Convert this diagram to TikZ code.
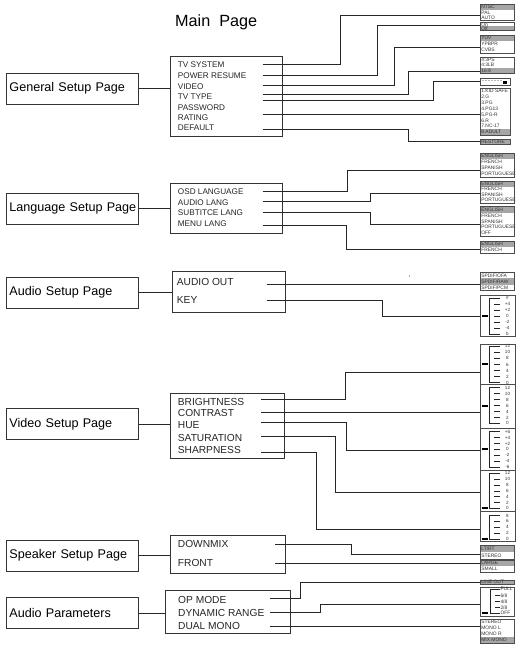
\documentclass[tikz,border=0pt]{standalone}
\usepackage{fontspec}
\setmainfont{Liberation Sans}
\usetikzlibrary{calc}
\tikzset{
 conn/.style={draw=black!85, line width=0.8pt},
 pagebox/.style={draw=black!80, line width=0.9pt, minimum width=132pt, minimum height=31pt, text width=126pt, align=left, inner xsep=3pt, inner ysep=5pt, font=\fontsize{12.6}{15}\selectfont, anchor=west},
 menubox/.style={draw=black!80, line width=0.9pt, inner sep=0pt},
 itemS/.style={anchor=west, inner sep=0pt, font=\fontsize{8.2}{9}\selectfont, text=black!85},
 itemL/.style={anchor=west, inner sep=0pt, font=\fontsize{10.2}{11}\selectfont, text=black!85},
 opt/.style={anchor=west, inner sep=0pt, font=\fontsize{4.9}{5}\selectfont, text=black!80},
 slab/.style={inner sep=0pt, font=\fontsize{4.6}{5}\selectfont, text=black!80},
 optframe/.style={draw=black!70, line width=0.6pt},
 hl/.style={fill=black!35},
 tickline/.style={draw=black!85, line width=0.6pt},
 marker/.style={draw=black, line width=2pt},
}
% #1 name #2 x #3 ytop #4 width #5 rowh #6 highlighted row #7 items
\newcommand\optlist[7]{%
  \foreach \t [count=\i] in {#7} {
    \ifnum\i=#6\relax \fill[hl] (#2,{#3+(\i-1)*#5}) rectangle ({#2+#4},{#3+\i*#5});\fi
    \node[opt] (#1-\i) at ({#2+1.2},{#3+(\i-0.5)*#5}) {\t};
    \xdef\nrows{\i}
  }
  \draw[optframe] (#2,#3) rectangle ({#2+#4},{#3+\nrows*#5});
}
% #1 name #2 ytop #3 ybot #4 y0 #5 step #6 marker index #7 labels
\newcommand\slider[7]{%
  \draw[optframe] (480,#2) rectangle (515,#3);
  \foreach \t [count=\i from 0] in {#7} {
    \node[slab] (#1-\i) at (507.5,{#4+\i*#5}) {\t};
    \draw[tickline] (494,{#4+\i*#5}) -- (499.5,{#4+\i*#5});
    \xdef\nlast{\i}
  }
  \draw[tickline] (499.5,#4) -- (489,#4) -- (489,{#4+\nlast*#5}) -- (499.5,{#4+\nlast*#5});
  \draw[marker] (481.5,{#4+#6*#5}) -- (487.5,{#4+#6*#5});
}
\begin{document}
\begin{tikzpicture}[x=1pt,y=-1pt]
\useasboundingbox (0,0) rectangle (520,647);
\fill[white] (0,0) rectangle (520,647);

\node[anchor=west, inner sep=0pt, font=\fontsize{16.2}{18}\selectfont] (title) at (175,22) {Main\ \ Page};

% ---------- left page boxes
\node[pagebox] (gen)  at (6,88.5)  {\mbox{General Setup Page}};
\node[pagebox] (lang) at (6,208.7) {\mbox{Language Setup Page}};
\node[pagebox] (aud)  at (6,292.7) {\mbox{Audio Setup Page}};
\node[pagebox] (vid)  at (6,424.3) {\mbox{Video Setup Page}};
\node[pagebox] (spk)  at (6,555.7) {\mbox{Speaker Setup Page}};
\node[pagebox] (apar) at (6,613)   {\mbox{Audio Parameters}};

% ---------- menu boxes
\node[menubox, minimum width=111.3pt, minimum height=80pt]   (genmenu)  at (226.35,96.7) {};
\node[menubox, minimum width=111.6pt, minimum height=50pt]   (langmenu) at (226.5,208.3) {};
\node[menubox, minimum width=113.4pt, minimum height=40.3pt] (audmenu)  at (229,291.85) {};
\node[menubox, minimum width=113.6pt, minimum height=65pt]   (vidmenu)  at (227.5,425.8) {};
\node[menubox, minimum width=114.3pt, minimum height=37.3pt] (spkmenu)  at (227.85,554.35) {};
\node[menubox, minimum width=125pt,   minimum height=43pt]   (aparmenu) at (227.5,611.5) {};

\foreach \b/\m in {gen/genmenu,lang/langmenu,aud/audmenu,vid/vidmenu,spk/spkmenu,apar/aparmenu}
  \draw[conn] (\b.east) -- (\b.east -| \m.west);

% ---------- menu items
\node[itemS] (tvsystem) at (177.7,64.7)  {TV SYSTEM};
\node[itemS] (powres)   at (177.7,76)    {POWER RESUME};
\node[itemS] (videoi)   at (177.7,86.2)  {VIDEO};
\node[itemS] (tvtype)   at (177.7,96.7)  {TV TYPE};
\node[itemS] (passw)    at (177.7,107.2) {PASSWORD};
\node[itemS] (rating)   at (177.7,117.7) {RATING};
\node[itemS] (default)  at (177.7,128)   {DEFAULT};

\node[itemS] (osdl)  at (177.7,192)   {OSD LANGUAGE};
\node[itemS] (audl)  at (177.7,202.7) {AUDIO LANG};
\node[itemS] (subl)  at (177.7,212.7) {SUBTITCE LANG};
\node[itemS] (menul) at (177.7,223.3) {MENU LANG};

\node[itemL] (audout) at (176.7,281.7) {AUDIO OUT};
\node[itemL] (keyi)   at (176.7,300)   {KEY};

\node[itemL] (bright) at (177.7,401.7) {BRIGHTNESS};
\node[itemL] (contr)  at (177.7,413.3) {CONTRAST};
\node[itemL] (hue)    at (177.7,425)   {HUE};
\node[itemL] (satur)  at (177.7,438.3) {SATURATION};
\node[itemL] (sharp)  at (177.7,450.3) {SHARPNESS};

\node[itemL] (downmix) at (177.7,544.3) {DOWNMIX};
\node[itemL] (front)   at (177.7,563.3) {FRONT};

\node[itemL] (opmode) at (178,600)   {OP MODE};
\node[itemL] (dynr)   at (178,613)   {DYNAMIC RANGE};
\node[itemL] (dualm)  at (178,626)   {DUAL MONO};

% ---------- option boxes
\optlist{tvs}{480}{4.3}{34.5}{5.47}{1}{NTSC,PAL,AUTO}
\optlist{res}{480}{22.3}{34.5}{4.2}{2}{On,Off}
\optlist{vdo}{480}{35}{34.5}{6.1}{1}{YUV,YPBPR,CVBS}
\optlist{tvt}{480}{57.3}{34.5}{5.33}{3}{4:3PS,4:3LB,16:9}
\draw[optframe] (480,78.3) rectangle (510.7,85);
\node[opt, font=\fontsize{6}{6}\selectfont] (pwd) at (482,81.4) {-\,-\,-\,-\,-\,-\,-};
\fill[black] (503.2,81.4) rectangle (507.2,84.3);
\draw[black, line width=0.7pt] (503.9,81.4) arc[start angle=180, end angle=0, radius=1.3];
\optlist{rat}{480}{88.3}{30.7}{5.84}{8}{1.KID SAFE,2.G,3.PG,4.PG13,5.PG-R,6.R,7.NC-17,8.ADULT}
\optlist{rst}{480}{139}{30.7}{5.2}{1}{RESTORE}

\optlist{la}{480}{153.3}{34.5}{6}{1}{ENGLISH,FRENCH,SPANISH,PORTUGUESE}
\optlist{lb}{480}{181}{34.5}{5.5}{1}{ENGLISH,FRENCH,SPANISH,PORTUGUESE}
\optlist{lc}{480}{206.7}{34.5}{5.85}{1}{ENGLISH,FRENCH,SPANISH,PORTUGUESE,OFF}
\optlist{ld}{480}{241}{34.5}{6}{1}{ENGLISH,FRENCH}

\optlist{spd}{480}{272.3}{34.5}{6.13}{2}{SPDIF/OFA,SPDIF/RAW,SPDIF/PCM}
\slider{key}{295.7}{336.7}{298.3}{5.95}{3}{\#,+4,+2,0,-2,-4,b}

\slider{sa}{344}{384.3}{346.3}{6.05}{3}{12,10,8,6,4,2,0}
\slider{sb}{384.3}{428.3}{387.7}{5.95}{3}{12,10,8,6,4,2,0}
\slider{sc}{428.3}{470}{431.7}{5.85}{3}{+6,+4,+2,0,-2,-4,-6}
\slider{sd}{470}{511.7}{473.3}{5.85}{6}{12,10,8,6,4,2,0}
\slider{se}{511.7}{541.7}{515.5}{5.85}{4}{8,6,4,2,0}

\optlist{ltr}{480}{545.7}{34.5}{6.65}{1}{LT/RT,STEREO}
\optlist{lrg}{480}{560}{34.5}{6.15}{1}{LARGE,SMALL}
\optlist{lno}{480}{579.8}{34.5}{4.8}{1}{LINE OUT}
\draw[optframe] (480,587.7) rectangle (514.5,616);
\foreach \t [count=\i from 0] in {FULL,6/8,4/8,2/8,OFF} {
  \node[opt] (dyn-\i) at (500.3,{589.3+\i*6}) {\t};
  \draw[tickline] (495,{589.3+\i*6}) -- (499.6,{589.3+\i*6});
}
\draw[tickline] (499.6,589.3) -- (490.7,589.3) -- (490.7,613.3) -- (499.6,613.3);
\draw[marker] (481.5,613.3) -- (487.5,613.3);
\optlist{stm}{480}{619.3}{34.5}{6}{4}{STEREO,MONO L,MONO R,MIX MONO}

% ---------- connector ends on option boxes
\coordinate (tvs-in) at (480,15.3);
\coordinate (res-in) at (480,25.7);
\coordinate (vdo-in) at (480,47.7);
\coordinate (tvt-in) at (480,71.5);
\coordinate (pwd-in) at (480,81.7);
\coordinate (rat-in) at (480,114.3);
\coordinate (rst-in) at (480,141.7);
\coordinate (la-in) at (480,170);
\coordinate (lb-in) at (480,193.3);
\coordinate (lc-in) at (480,224);
\coordinate (ld-in) at (480,249.5);
\coordinate (spd-in) at (480,284);
\coordinate (key-in) at (480,316.3);
\coordinate (sa-in) at (480,372.5);
\coordinate (sb-in) at (480,412.7);
\coordinate (sc-in) at (480,450);
\coordinate (sd-in) at (480,492.5);
\coordinate (se-in) at (480,529.7);
\coordinate (ltr-in) at (480,554.3);
\coordinate (lrg-in) at (480,563.3);
\coordinate (lno-in) at (480,582.3);
\coordinate (dyn-in) at (480,604);
\coordinate (stm-in) at (480,626.5);

% ---------- connector starts
\coordinate (g1) at (262.7,64.5);
\coordinate (g2) at (262.7,75.7);
\coordinate (g3) at (262.7,85.7);
\coordinate (g4) at (262.7,94);
\coordinate (g5) at (262.7,100.7);
\coordinate (g6) at (262.7,114.3);
\coordinate (g7) at (262.7,129);
\coordinate (l1) at (262.7,191.3);
\coordinate (l2) at (262.7,201.7);
\coordinate (l3) at (262.7,212.7);
\coordinate (l4) at (262.7,225);
\coordinate (a1) at (266.7,284);
\coordinate (a2) at (266.7,300);
\coordinate (v1) at (261,399);
\coordinate (v2) at (261,412.7);
\coordinate (v3) at (261,422.7);
\coordinate (v4) at (261,436.7);
\coordinate (v5) at (261,452.3);
\coordinate (s1) at (275,544.3);
\coordinate (s2) at (275,563.3);
\coordinate (p1) at (270,598);
\coordinate (p2) at (270,612);
\coordinate (p3) at (270,626.5);

% ---------- connectors
\draw[conn] (g1) -- (340.7,64.5) |- (tvs-in);
\draw[conn] (g2) -- (377,75.7) |- (res-in);
\draw[conn] (g3) -- (394,85.7) |- (vdo-in);
\draw[conn] (g4) -- (408,94) |- (tvt-in);
\draw[conn] (g5) -- (433.3,100.7) |- (pwd-in);
\draw[conn] (g6) -- (rat-in);
\draw[conn] (g7) -- (408,129) |- (rst-in);

\draw[conn] (l1) -- (347.3,191.3) |- (la-in);
\draw[conn] (l2) -- (370,201.7) |- (lb-in);
\draw[conn] (l3) -- (370.7,212.7) |- (lc-in);
\draw[conn] (l4) -- (346,225) |- (ld-in);

\draw[conn] (a1) -- (spd-in);
\draw[conn] (a2) -- (382.3,300) |- (key-in);
\fill[black] (409.3,276) circle[radius=0.5];

\draw[conn] (v1) -- (345,399) |- (sa-in);
\draw[conn] (v2) -- (sb-in);
\draw[conn] (v3) -- (346.7,422.7) |- (sc-in);
\draw[conn] (v4) -- (335,436.7) |- (sd-in);
\draw[conn] (v5) -- (316.7,452.3) |- (se-in);

\draw[conn] (s1) -- (351.7,544.3) |- (ltr-in);
\draw[conn] (s2) -- (lrg-in);

\draw[conn] (p1) -- (300,598) |- (lno-in);
\draw[conn] (p2) -- (320,612) |- (dyn-in);
\draw[conn] (p3) -- (stm-in);
\end{tikzpicture}
\end{document}
